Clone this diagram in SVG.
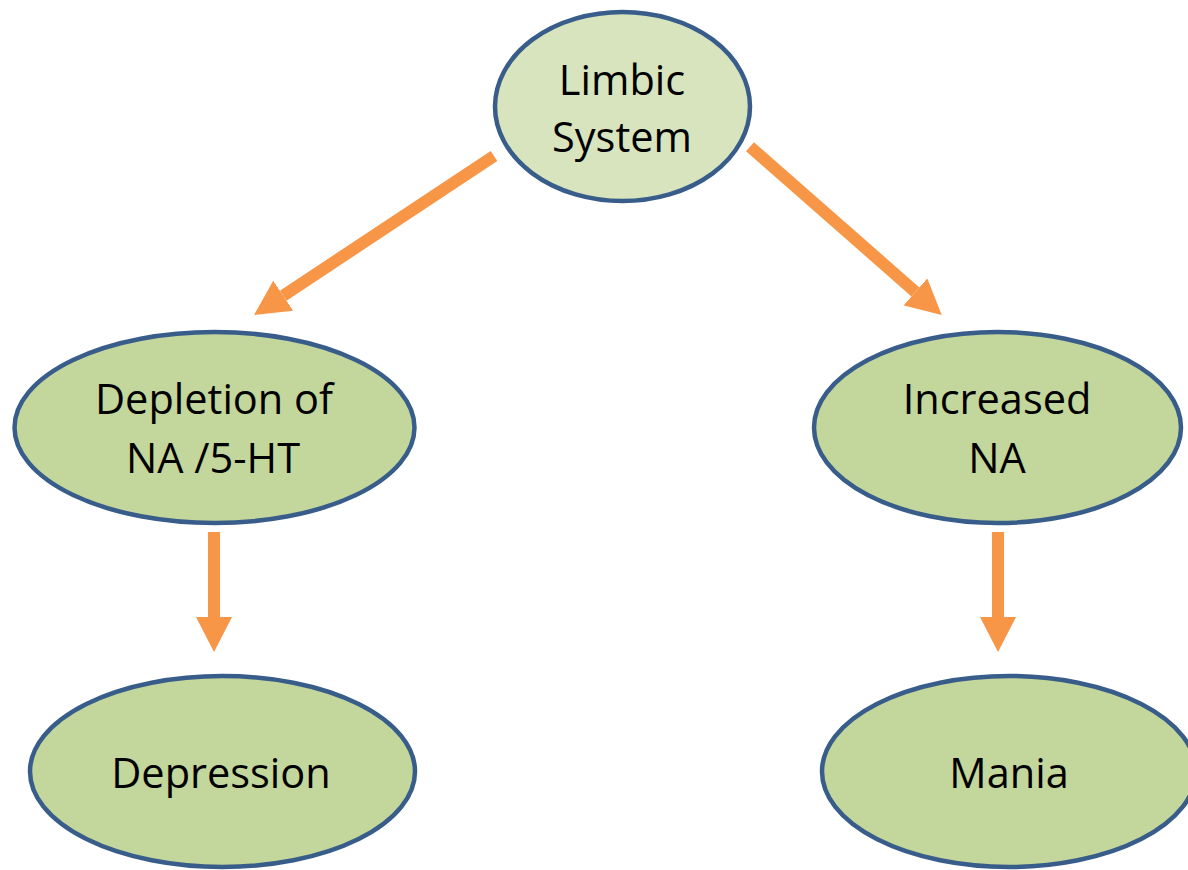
<svg xmlns="http://www.w3.org/2000/svg" width="1188" height="870" viewBox="0 0 1188 870">
  <style>
    .node ellipse { fill: #c3d69b; stroke: #385d8a; stroke-width: 4.5; }
    #limbic ellipse { fill: #d7e4bd; }
    .node text { font-family: "Open Sans", "Liberation Sans", sans-serif; font-size: 41.5px; fill: #000; text-anchor: middle; }
    .conn line { stroke: #f79646; stroke-width: 12; fill: none; marker-end: url(#head); }
  </style>
  <defs>
    <marker id="head" markerUnits="userSpaceOnUse" markerWidth="36" markerHeight="36" refX="0" refY="18" orient="auto" viewBox="0 0 36 36">
      <path d="M0,0 L35,18 L0,36 Z" fill="#f79646"/>
    </marker>
  </defs>
  <rect width="1188" height="870" fill="#ffffff"/>
  <g id="connectors" class="conn">
    <line x1="494" y1="156" x2="283.2" y2="295.7"/>
    <line x1="750" y1="146.7" x2="915.4" y2="291.9"/>
    <line x1="214" y1="532" x2="214" y2="617"/>
    <line x1="998" y1="532" x2="998" y2="617"/>
  </g>
  <g id="limbic" class="node">
    <ellipse cx="622.5" cy="106.5" rx="127.5" ry="94.5"/>
    <text x="622" y="95">Limbic</text>
    <text x="622" y="152">System</text>
  </g>
  <g id="depletion" class="node">
    <ellipse cx="214.5" cy="427.5" rx="200" ry="95.5"/>
    <text x="214" y="414">Depletion of</text>
    <text x="213" y="473">NA /5-HT</text>
  </g>
  <g id="increased" class="node">
    <ellipse cx="997.5" cy="427.5" rx="183.5" ry="95.5"/>
    <text x="997" y="414">Increased</text>
    <text x="997" y="473">NA</text>
  </g>
  <g id="depression" class="node">
    <ellipse cx="222.5" cy="771.5" rx="192.5" ry="95.5"/>
    <text x="221" y="788">Depression</text>
  </g>
  <g id="mania" class="node">
    <ellipse cx="1009" cy="771.5" rx="187" ry="95.5"/>
    <text x="1009" y="788">Mania</text>
  </g>
</svg>
